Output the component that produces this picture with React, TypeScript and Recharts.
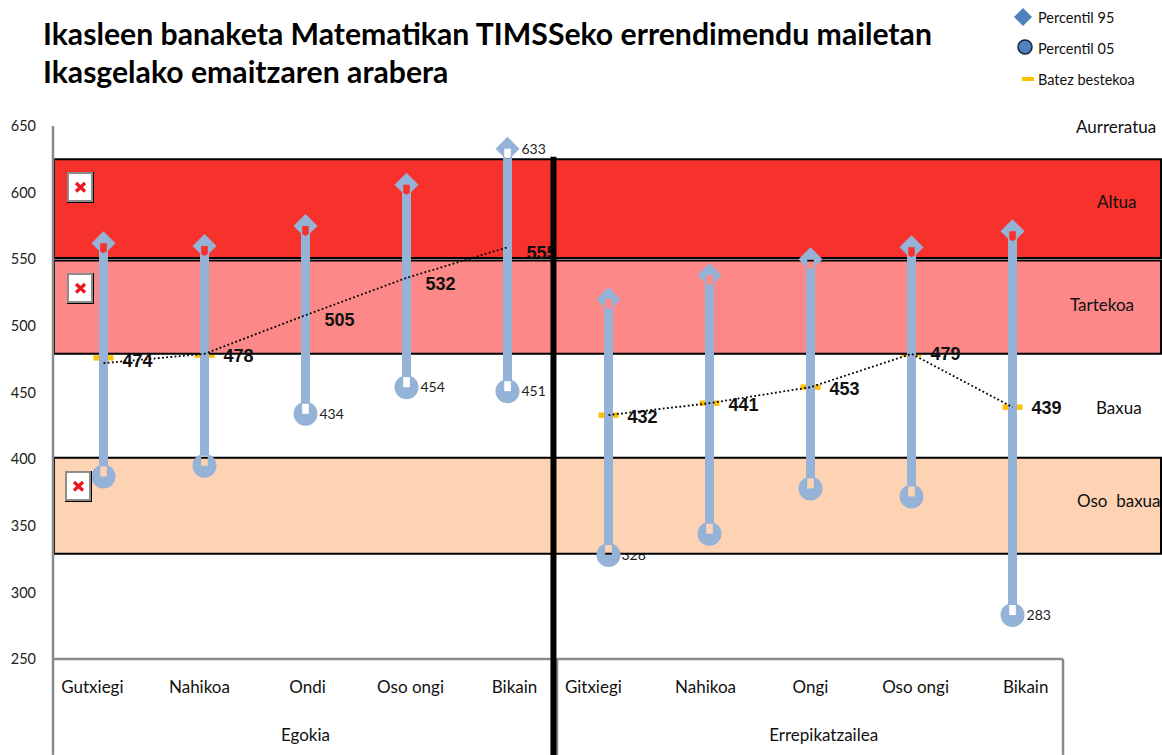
import {
  Bar,
  ComposedChart,
  LabelList,
  Legend,
  Line,
  ReferenceArea,
  ReferenceLine,
  Scatter,
  XAxis,
  YAxis,
} from 'recharts';

const categories = ['Gutxiegi', 'Nahikoa', 'Ondi', 'Oso ongi', 'Bikain', 'Gitxiegi', 'Nahikoa', 'Ongi', 'Oso ongi', 'Bikain'];
const groups = ['Egokia', 'Errepikatzailea'];
const percentile95 = [562, 560, 575, 606, 633, 520, 538, 550, 559, 571];
const percentile05 = [387, 395, 434, 454, 451, 328, 344, 378, 372, 283];
const meanValues = [474, 478, 505, 532, 555, 432, 441, 453, 479, 439];
// the dotted line sits a little off its labels in the first group
const meanLineA = [472, 479, 508, 536, 559, null, null, null, null, null];
const meanLineB = [null, null, null, null, null, 433, 442, 454, 479, 439];
const meanDashes = [476, 478, null, null, null, 433, 442, 454, 479, 439];
const labels95 = [null, null, null, null, 633, null, null, null, null, null];
const labels05 = [null, null, 434, 454, 451, null, null, null, null, 283];
const labels05Under = [null, null, null, null, null, 328, null, null, null, null];
const yTicks = [250, 300, 350, 400, 450, 500, 550, 600, 650];
const categoryTicks = [0.39, 1.45, 2.52, 3.54, 4.57, 5.35, 6.46, 7.5, 8.54, 9.63];
const groupTicks = [2.5, 7.63];
const legendNames = ['Percentil 95', 'Percentil 05', 'Batez bestekoa'];

const bands = [
  { name: 'Altua', from: 551, to: 625, fill: '#f7322c' },
  { name: 'Tartekoa', from: 479, to: 549, fill: '#fc8888' },
  { name: 'Oso baxua', from: 329, to: 401, fill: '#fdd3b3' },
];

const rows = categories.map((category, i) => ({
  pos: i + 0.5,
  category,
  range: [percentile05[i], percentile95[i]],
  mean: meanValues[i],
  lineA: meanLineA[i],
  lineB: meanLineB[i],
  dash: meanDashes[i],
  label95: labels95[i],
  label05: labels05[i],
  label05Under: labels05Under[i],
}));

const STEM = '#95b3d7';
const GREY = '#8a8a8a';
const FONT = 'Lato, sans-serif';

function RangeStem({ x, y, width, height, index }: any) {
  const cx = x + width / 2;
  const bottom = y + height;
  const id = `stem-notch-${index}`;
  return (
    <g>
      <mask id={id} maskUnits='userSpaceOnUse' x={cx - 14} y={y - 14} width={28} height={height + 28}>
        <rect x={cx - 14} y={y - 14} width={28} height={height + 28} fill='#fff' />
        <polygon
          points={`${cx - 3.3},${y} ${cx + 3.3},${y} ${cx + 3.3},${y + 8} ${cx},${y + 10} ${cx - 3.3},${y + 8}`}
          fill='#000'
        />
        <rect x={cx - 3.3} y={bottom - 10} width={6.6} height={10} fill='#000' />
      </mask>
      <g mask={`url(#${id})`} fill={STEM}>
        <rect x={x} y={y} width={width} height={height} />
        <polygon points={`${cx},${y - 12} ${cx + 12},${y} ${cx},${y + 12} ${cx - 12},${y}`} />
        <circle cx={cx} cy={bottom} r={12} />
      </g>
    </g>
  );
}

function MeanDash({ cx, cy, dash }: any) {
  if (dash == null || cy == null) return <g />;
  return <rect x={cx - 10} y={cy - 2.7} width={20} height={5.4} fill='#ffc000' />;
}

function BrokenImage({ x, y }: { x: number; y: number }) {
  return (
    <g>
      <rect x={x} y={y} width={27} height={31} fill='#000' />
      <rect x={x} y={y} width={26} height={30} fill='#8c8c8c' />
      <rect x={x + 2} y={y + 2} width={22} height={26} fill='#fff' />
      <path
        d={`M${x + 9} ${y + 11}L${x + 18} ${y + 19.5}M${x + 18} ${y + 11}L${x + 9} ${y + 19.5}`}
        stroke='#f0141e'
        strokeWidth={3.2}
      />
    </g>
  );
}

function LegendBox() {
  const text = { position: 'absolute', left: 28, fontSize: 14.5, fontFamily: FONT, color: '#111', whiteSpace: 'nowrap', lineHeight: '18px' } as const;
  return (
    <div style={{ position: 'relative', width: 150, height: 95 }}>
      <svg width={30} height={95} style={{ position: 'absolute', left: 0, top: 0 }}>
        <polygon points='13,8 22,17 13,26 4,17' fill='#4f81bd' />
        <circle cx={15} cy={47} r={7} fill='#4f81bd' stroke='#10253f' strokeWidth={1.5} />
        <rect x={12} y={77} width={12} height={4} fill='#ffc000' />
      </svg>
      <span style={{ ...text, top: 9 }}>{legendNames[0]}</span>
      <span style={{ ...text, top: 40 }}>{legendNames[1]}</span>
      <span style={{ ...text, top: 71 }}>{legendNames[2]}</span>
    </div>
  );
}

const smallLabel = { fontSize: 14, fontFamily: FONT, fill: '#222' };
const meanLabel = { fontSize: 18, fontWeight: 700, fontFamily: '"Liberation Sans", Arial, sans-serif', fill: '#111' };
const sideLabel = { fontSize: 17, fontFamily: FONT, fill: '#111' };

export default function App() {
  return (
    <div style={{ position: 'absolute', left: 0, top: 0, width: 1162, height: 755, overflow: 'hidden', background: '#fff' }}>
      <div
        style={{
          position: 'absolute',
          left: 43,
          top: 14,
          fontFamily: FONT,
          fontWeight: 700,
          fontSize: 30.2,
          lineHeight: '38px',
          color: '#000',
          whiteSpace: 'nowrap',
        }}
      >
        Ikasleen banaketa Matematikan TIMSSeko errendimendu mailetan
        <br />
        Ikasgelako emaitzaren arabera
      </div>
      <ComposedChart width={1162} height={755} data={rows} margin={{ top: 126, right: 1, bottom: 0, left: 0 }}>
        <XAxis
          dataKey='pos'
          type='number'
          domain={[0, 10.97]}
          ticks={categoryTicks}
          interval={0}
          height={48}
          axisLine={false}
          tickLine={false}
          tickMargin={16}
          tickFormatter={(_v: number, i: number) => categories[i]}
          tick={{ fontSize: 17, fontFamily: FONT, fill: '#111' }}
        />
        <XAxis
          xAxisId='group'
          dataKey='pos'
          type='number'
          domain={[0, 10.97]}
          ticks={groupTicks}
          interval={0}
          height={48}
          axisLine={false}
          tickLine={false}
          tickMargin={16}
          tickFormatter={(_v: number, i: number) => groups[i]}
          tick={{ fontSize: 17, fontFamily: FONT, fill: '#111' }}
        />
        <YAxis
          width={53}
          domain={[250, 650]}
          ticks={yTicks}
          interval={0}
          axisLine={{ stroke: GREY, strokeWidth: 2.5 }}
          tickLine={false}
          tickMargin={11}
          tick={{ fontSize: 14.5, fontFamily: FONT, fill: '#222' }}
        />
        <Legend
          layout='horizontal'
          align='center'
          verticalAlign='middle'
          content={<LegendBox />}
          wrapperStyle={{ position: 'absolute', left: 1010, top: 0, width: 150, height: 95 }}
        />

        <Scatter dataKey='dash' shape={<MeanDash />} isAnimationActive={false} zIndex={200} />

        {bands.map((band) => (
          <ReferenceArea
            key={band.name}
            x1={0.01}
            x2={10.97}
            y1={band.from}
            y2={band.to}
            fill={band.fill}
            fillOpacity={1}
            stroke='#000'
            strokeWidth={2}
            ifOverflow='visible'
            zIndex={250}
          />
        ))}

        <ReferenceLine segment={[{ x: 0, y: 250 }, { x: 0, y: 178 }]} stroke={GREY} strokeWidth={2.5} ifOverflow='visible' />
        <ReferenceLine segment={[{ x: 4.99, y: 250 }, { x: 4.99, y: 178 }]} stroke={GREY} strokeWidth={2.5} ifOverflow='visible' />
        <ReferenceLine segment={[{ x: 10, y: 250 }, { x: 10, y: 178 }]} stroke={GREY} strokeWidth={2.5} ifOverflow='visible' />
        <ReferenceLine segment={[{ x: 0, y: 250 }, { x: 10, y: 250 }]} stroke={GREY} strokeWidth={2.5} ifOverflow='visible' />

        <Bar dataKey='range' barSize={9} shape={<RangeStem />} isAnimationActive={false} zIndex={300} />

        <Line dataKey='lineA' stroke='#000' strokeWidth={1.8} strokeDasharray='1.8 2.4' dot={false} isAnimationActive={false} />
        <Line dataKey='lineB' stroke='#000' strokeWidth={1.8} strokeDasharray='1.8 2.4' dot={false} isAnimationActive={false} />

        <Line dataKey='label05Under' stroke='none' dot={false} isAnimationActive={false}>
          <LabelList dataKey='label05Under' position='right' offset={13} style={smallLabel} zIndex={200} />
        </Line>
        <Line dataKey='mean' stroke='none' dot={false} isAnimationActive={false}>
          <LabelList dataKey='mean' position='right' offset={19} style={meanLabel} />
        </Line>
        <Line dataKey='label95' stroke='none' dot={false} isAnimationActive={false}>
          <LabelList dataKey='label95' position='right' offset={14} style={smallLabel} />
        </Line>
        <Line dataKey='label05' stroke='none' dot={false} isAnimationActive={false}>
          <LabelList dataKey='label05' position='right' offset={14} style={smallLabel} />
        </Line>

        <ReferenceLine
          segment={[{ x: 4.955, y: 627 }, { x: 4.955, y: 178 }]}
          stroke='#000'
          strokeWidth={6}
          ifOverflow='visible'
          zIndex={2500}
        />
      </ComposedChart>
      <svg width={1162} height={755} style={{ position: 'absolute', left: 0, top: 0, pointerEvents: 'none' }}>
        <BrokenImage x={67} y={172} />
        <BrokenImage x={67} y={273} />
        <BrokenImage x={65} y={471} />
        <text x={1076} y={133} style={sideLabel}>Aurreratua</text>
        <text x={1097} y={208} style={sideLabel}>Altua</text>
        <text x={1070} y={311} style={sideLabel}>Tartekoa</text>
        <text x={1096} y={414} style={sideLabel}>Baxua</text>
        <text x={1077} y={507} style={{ ...sideLabel, whiteSpace: 'pre' }}>Oso  baxua</text>
      </svg>
    </div>
  );
}
